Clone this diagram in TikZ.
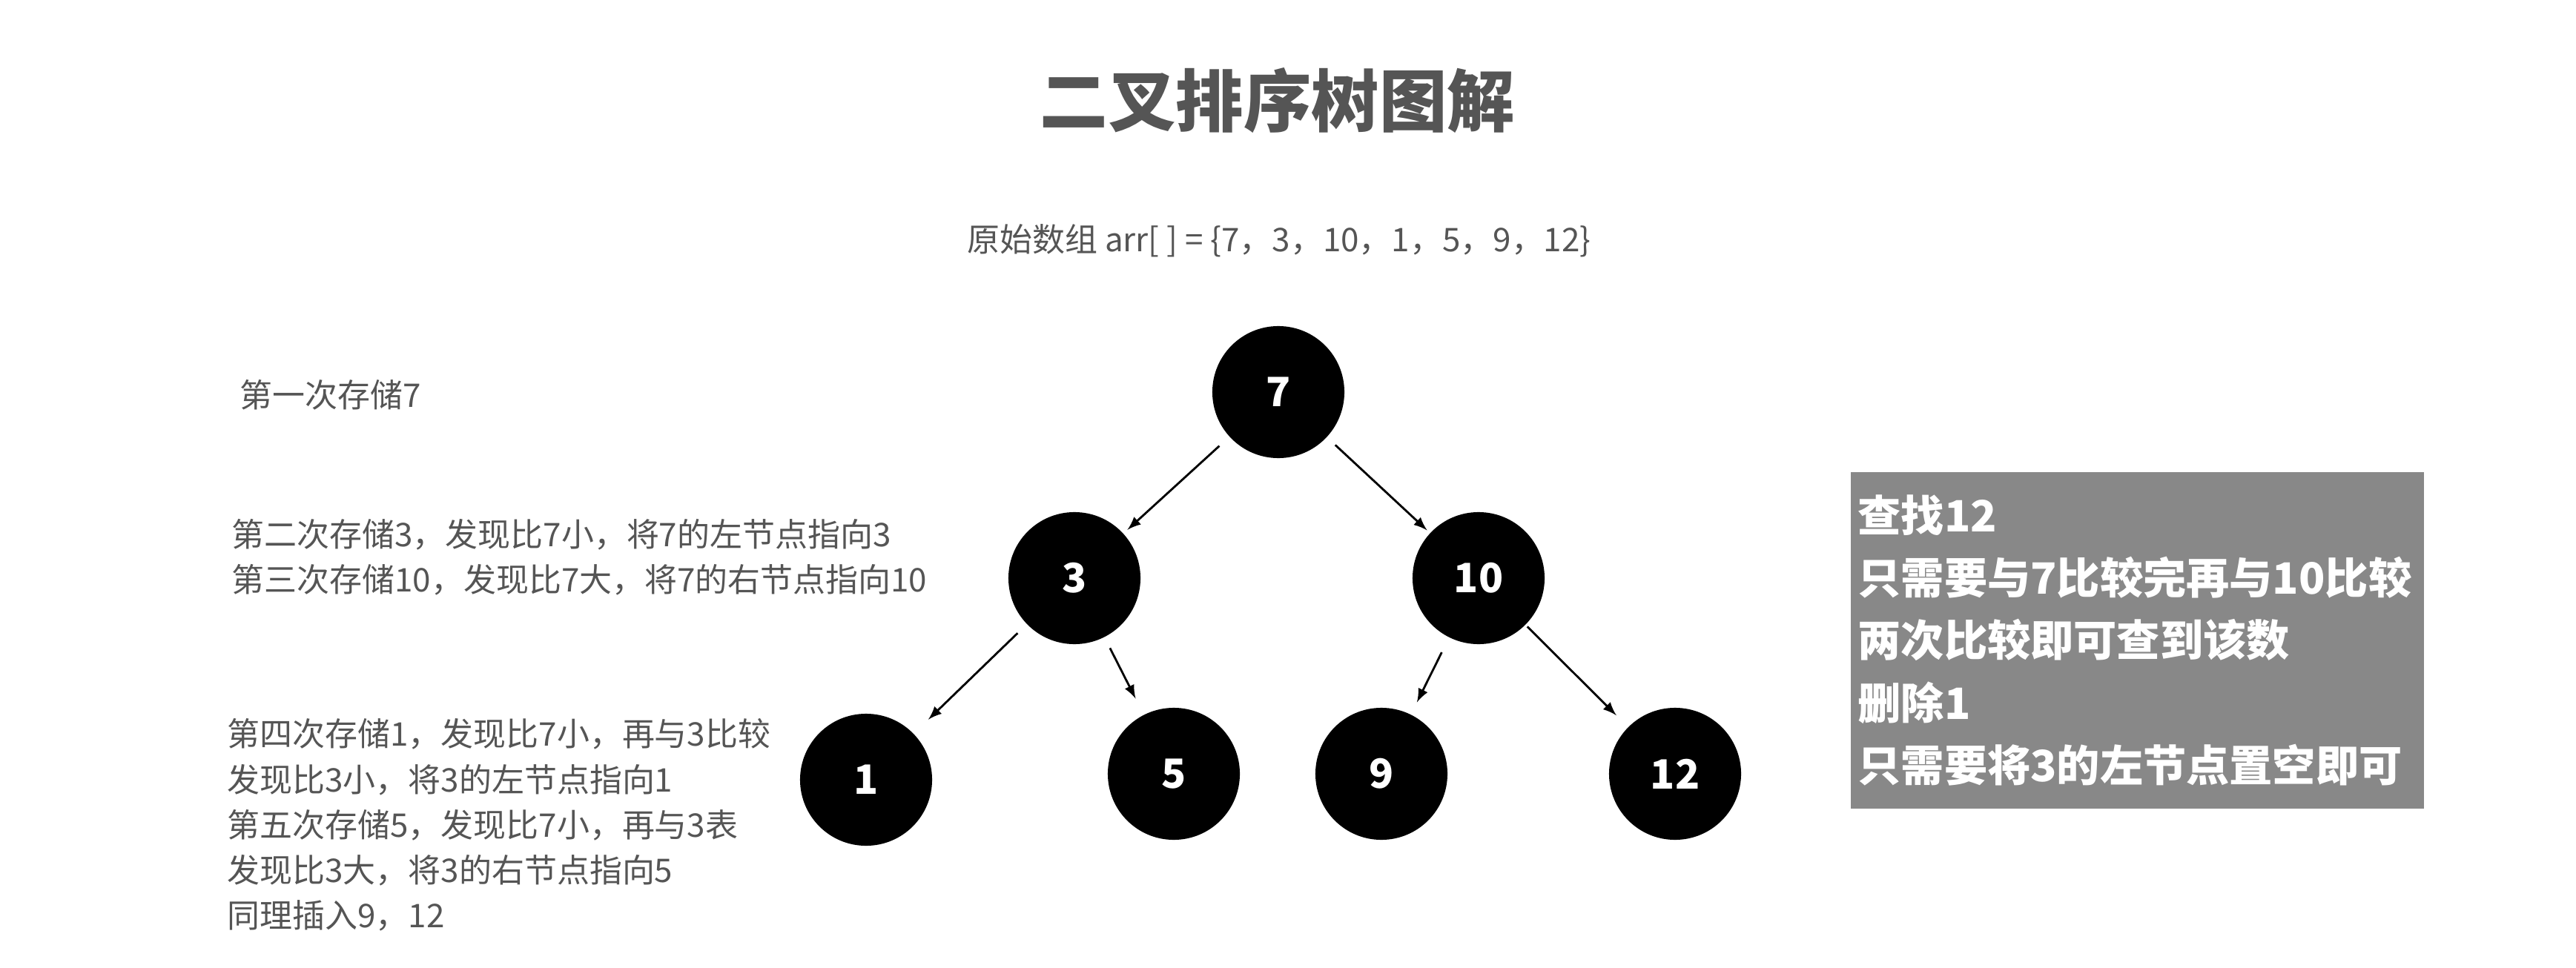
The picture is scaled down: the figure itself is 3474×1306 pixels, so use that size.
\documentclass[tikz,border=0pt]{standalone}
\usepackage{fontspec}
\setmainfont{Noto Sans CJK SC}
\definecolor{txtgray}{HTML}{555555}
\definecolor{boxgray}{HTML}{888888}

\begin{document}
\begin{tikzpicture}[x=0.01cm, y=-0.01cm,
 num/.style={circle, fill=black, minimum size=1.78cm, inner sep=0pt, text=white, font=\fontsize{15.5pt}{18pt}\selectfont\bfseries},
 note/.style={text=txtgray, inner sep=0pt, align=left, font=\fontsize{12.5pt}{17.4pt}\selectfont},
 arr/.style={-latex, line width=0.8pt}]
 \fill[white] (0,0) rectangle (3474,1306);
 \useasboundingbox (0,0) rectangle (3474,1306);

 \draw node[text=txtgray, font=\fontsize{26pt}{30pt}\selectfont\bfseries] (title) at (1723,136) {二叉排序树图解};
 \draw node[note] (array) at (1725,325) {原始数组 arr[ ] = \{7，3，10，1，5，9，12\}};

 \draw node[note, anchor=west] (s1) at (323,533) {第一次存储7};
 \draw node[note, anchor=west] (s23) at (312,752) {第二次存储3，发现比7小，将7的左节点指向3\\第三次存储10，发现比7大，将7的右节点指向10};
 \draw node[note, anchor=west] (s45) at (306,1113) {第四次存储1，发现比7小，再与3比较\\发现比3小，将3的左节点指向1\\第五次存储5，发现比7小，再与3表\\发现比3大，将3的右节点指向5\\同理插入9，12};

 \draw node[num] (n7) at (1724,529) {7};
 \draw node[num] (n3) at (1449,780) {3};
 \draw node[num] (n10) at (1994,780) {10};
 \draw node[num] (n1) at (1168,1052) {1};
 \draw node[num] (n5) at (1583,1044) {5};
 \draw node[num] (n9) at (1863,1044) {9};
 \draw node[num] (n12) at (2259,1044) {12};

 \draw[arr, shorten <=0.18cm, shorten >=0.07cm] (n7) -- (n3);
 \draw[arr, shorten <=0.15cm, shorten >=0.05cm] (n7) -- (n10);
 \draw[arr, shorten <=0.17cm, shorten >=0.27cm] (n3) -- (n1);
 \draw[arr, shorten <=0.16cm, shorten >=0.24cm] (n3) -- (n5);
 \draw[arr, shorten <=0.22cm, shorten >=0.18cm] (n10) -- (n9);
 \draw[arr, shorten <=0.03cm, shorten >=0.22cm] (n10) -- (n12);

 \draw node[fill=boxgray, text=white, anchor=north west, minimum width=7.73cm, minimum height=4.54cm, text width=7.53cm, inner xsep=0.1cm, inner ysep=0pt, align=left, font=\fontsize{16.55pt}{24pt}\selectfont\bfseries] (find) at (2495,636) {查找12\\只需要与7比较完再与10比较\\两次比较即可查到该数\\删除1\\只需要将3的左节点置空即可};
\end{tikzpicture}
\end{document}
